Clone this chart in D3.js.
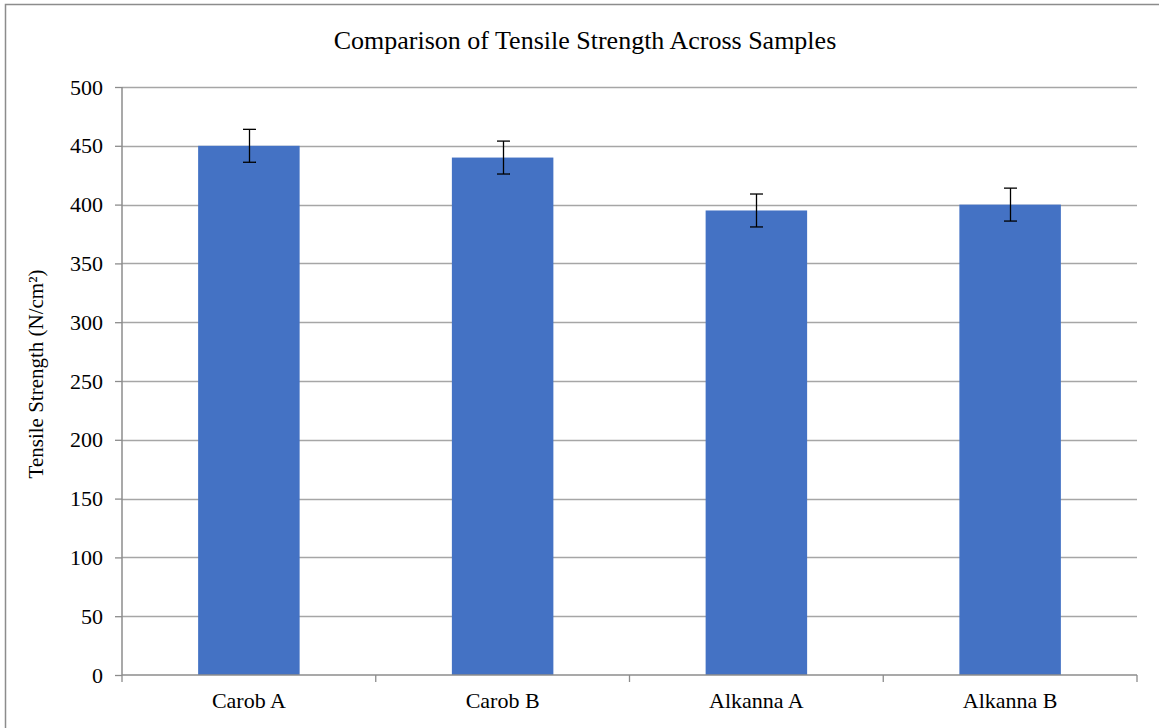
<!DOCTYPE html>
<html><head><meta charset="utf-8">
<script src="https://cdn.jsdelivr.net/npm/d3@7"></script>
<style>body{margin:0;background:#fff}svg{display:block}</style>
</head><body>
<script>
const categories = ["Carob A", "Carob B", "Alkanna A", "Alkanna B"];
const values = [450, 440, 395, 400];
const errors = [14, 14, 14, 14];
const yTicks = [0, 50, 100, 150, 200, 250, 300, 350, 400, 450, 500];
const title = "Comparison of Tensile Strength Across Samples";
const yLabel = "Tensile Strength (N/cm²)";

const W = 1159, H = 728;
const m = {left: 122, right: 1137, top: 87, bottom: 675};
const font = "'Liberation Serif', 'Times New Roman', serif";

const svg = d3.select("body").append("svg").attr("width", W).attr("height", H);
svg.append("rect").attr("x", 5.5).attr("y", 4.5).attr("width", 1200).attr("height", 800)
  .attr("fill", "#fff").attr("stroke", "#8c8c8c").attr("stroke-width", 1.5);

const x = d3.scaleBand().domain(categories).range([m.left, m.right]).paddingInner(0.6).paddingOuter(0.3);
const y = d3.scaleLinear().domain([0, 500]).range([m.bottom, m.top]);

// gridlines
svg.append("g").selectAll("line").data(yTicks.filter(d => d > 0)).join("line")
  .attr("x1", m.left).attr("x2", m.right)
  .attr("y1", d => Math.round(y(d)) + 0.5).attr("y2", d => Math.round(y(d)) + 0.5)
  .attr("stroke", "#a6a6a6").attr("stroke-width", 1.3);

// bars
svg.append("g").selectAll("rect").data(values).join("rect")
  .attr("x", (d, i) => x(categories[i])).attr("width", x.bandwidth())
  .attr("y", d => y(d)).attr("height", d => y(0) - y(d))
  .attr("fill", "#4472C4");

// error bars
const eg = svg.append("g").attr("stroke", "#000").attr("stroke-width", 1.3);
values.forEach((v, i) => {
  const cx = Math.round(x(categories[i]) + x.bandwidth() / 2) + 0.5;
  const t = y(v + errors[i]), b = y(v - errors[i]);
  eg.append("line").attr("x1", cx).attr("x2", cx).attr("y1", t).attr("y2", b);
  eg.append("line").attr("x1", cx - 6.5).attr("x2", cx + 6.5).attr("y1", t).attr("y2", t);
  eg.append("line").attr("x1", cx - 6.5).attr("x2", cx + 6.5).attr("y1", b).attr("y2", b);
});

// y axis
const ya = svg.append("g").attr("transform", `translate(${m.left},0)`)
  .call(d3.axisLeft(y).tickValues(yTicks).tickSize(7).tickPadding(12));
ya.select(".domain").attr("stroke", "#8c8c8c").attr("stroke-width", 1.5).attr("d", `M0,${m.top}V${m.bottom}`);
ya.selectAll(".tick line").attr("stroke", "#8c8c8c").attr("stroke-width", 1.3);
ya.selectAll("text").attr("font-family", font).attr("font-size", 22).attr("fill", "#000");

// x axis
const xa = svg.append("g").attr("transform", `translate(0,${m.bottom})`)
  .call(d3.axisBottom(x).tickSize(0).tickPadding(17));
xa.select(".domain").attr("stroke", "#8c8c8c").attr("stroke-width", 1.5).attr("d", `M${m.left},0H${m.right}`);
xa.selectAll("text").attr("font-family", font).attr("font-size", 22).attr("fill", "#000");
const bounds = d3.range(categories.length + 1).map(i => m.left + i * (m.right - m.left) / categories.length);
xa.append("g").selectAll("line").data(bounds).join("line")
  .attr("x1", d => d).attr("x2", d => d).attr("y1", 0).attr("y2", 7)
  .attr("stroke", "#8c8c8c").attr("stroke-width", 1.3);

// title
svg.append("text").attr("x", 585).attr("y", 49).attr("text-anchor", "middle")
  .attr("font-family", font).attr("font-size", 26).attr("fill", "#000").text(title);

// y label
svg.append("text").attr("transform", `translate(43,${(m.top + m.bottom) / 2 - 7}) rotate(-90)`)
  .attr("text-anchor", "middle").attr("font-family", font).attr("font-size", 21).attr("fill", "#000").text(yLabel);
</script>
</body></html>
